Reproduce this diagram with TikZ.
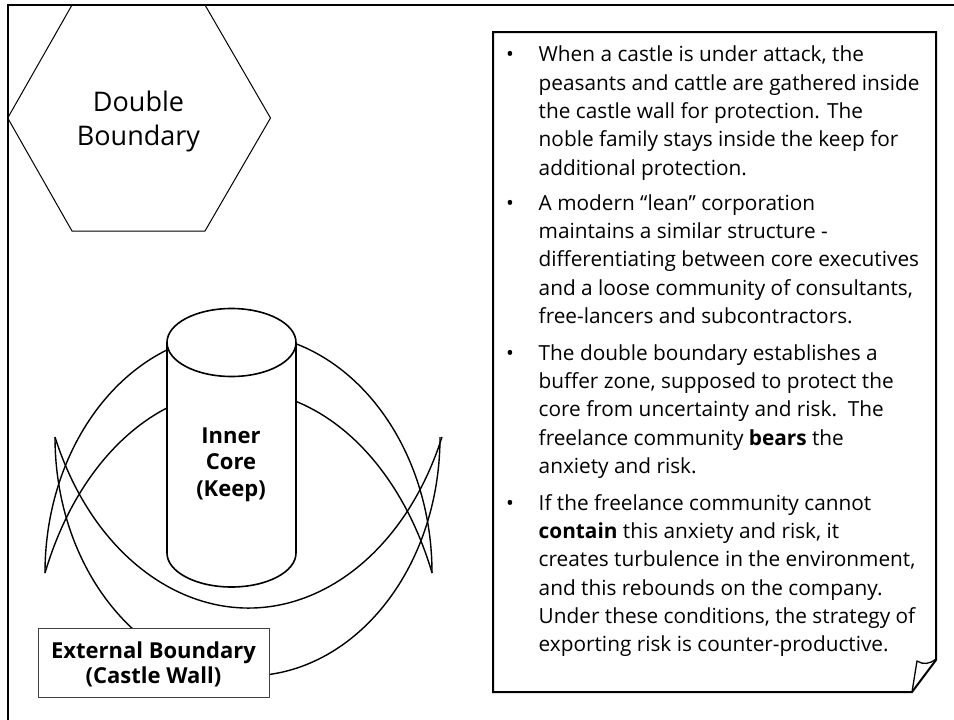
\documentclass[tikz,border=0pt]{standalone}
\usepackage{fontspec}
\setmainfont{Open Sans}
\begin{document}
\begin{tikzpicture}[x=1pt,y=1pt,
  body/.style={font=\fontsize{20.8}{28.33}\selectfont, align=left, inner sep=0pt, anchor=north west},
  bul/.style={font=\fontsize{20.8}{28.33}\selectfont, inner sep=0pt, anchor=base},
  lbl/.style={font=\bfseries\fontsize{22}{26.3}\selectfont, align=center, inner sep=0pt, anchor=north},
  arcline/.style={line width=1.4pt},
  thick frame/.style={line width=2pt},
]
\useasboundingbox (0,0) rectangle (954,-720);
\fill[white] (0,0) rectangle (954,-720);

% outer frame
\draw[thick frame] (7.7,-720) -- (7.7,-5) -- (960,-5);

% hexagon
\draw[line width=1pt] (7.7,-118) -- (72,-5) -- (205,-5) -- (270.5,-118) -- (205,-231) -- (72,-231) -- cycle;
\node[font=\fontsize{27}{34}\selectfont, align=center, inner sep=0pt, anchor=north] (hextext) at (138.5,-87) {\rule{0pt}{24pt}Double\\Boundary};

% wall arcs
\draw[arcline] (45,-573) arc[start angle=180, end angle=0, x radius=193.5, y radius=240];
\draw[arcline] (45,-573) arc[start angle=157.17, end angle=22.83, x radius=210, y radius=299];
\draw[arcline] (55,-437) arc[start angle=180, end angle=360, x radius=192.5, y radius=239];
\draw[arcline] (55,-437) arc[start angle=202.87, end angle=337.13, x radius=210, y radius=279.7];

% cylinder (keep)
\draw[line width=1.6pt, fill=white] (167,-342.5) -- (167,-553) arc[start angle=180, end angle=360, x radius=64.5, y radius=34] -- (296,-342.5);
\draw[line width=1.6pt, fill=white] (231.5,-342.5) ellipse[x radius=64.5, y radius=34];
\node[lbl] (keep) at (231,-425.3) {\rule{0pt}{18pt}Inner\\Core\\(Keep)};

% external boundary label
\node[draw=black!75, line width=1pt, fill=white, minimum width=231pt, minimum height=69pt, inner sep=0pt] (wall) at (153.5,-662.5) {};
\node[lbl, font=\bfseries\fontsize{22}{25}\selectfont] (walltext) at (153.5,-640.3) {\rule{0pt}{18pt}External Boundary\\(Castle Wall)};

% text box with folded corner
\draw[line width=2pt, fill=white, line join=miter] (493,-32) -- (936,-32) -- (936,-660) -- (912,-692) -- (493,-692) -- cycle;
\draw[line width=1.3pt, line join=round] (912,-692) -- (917,-661) .. controls (923,-665) and (930,-664) .. (936,-659);

\node[bul] (b1) at (510,-61.7) {•};
\node[body] (p1) at (538.5,-43.7) {\rule{0pt}{18pt}When a castle is under attack, the\\peasants and cattle are gathered inside\\the castle wall for protection. The\\noble family stays inside the keep for\\additional protection.};
\node[bul] (b2) at (510,-210) {•};
\node[body] (p2) at (538.5,-192) {\rule{0pt}{18pt}A modern “lean” corporation\\maintains a similar structure -\\differentiating between core executives\\and a loose community of consultants,\\free-lancers and subcontractors.};
\node[bul] (b3) at (510,-360) {•};
\node[body] (p3) at (538.5,-342) {\rule{0pt}{18pt}The double boundary establishes a\\buffer zone, supposed to protect the\\core from uncertainty and risk.\ \ The\\freelance community \textbf{bears} the\\anxiety and risk.};
\node[bul] (b4) at (510,-510) {•};
\node[body] (p4) at (538.5,-492) {\rule{0pt}{18pt}If the freelance community cannot\\\textbf{contain} this anxiety and risk, it\\creates turbulence in the environment,\\and this rebounds on the company.\\Under these conditions, the strategy of\\exporting risk is counter-productive.};
\end{tikzpicture}
\end{document}
